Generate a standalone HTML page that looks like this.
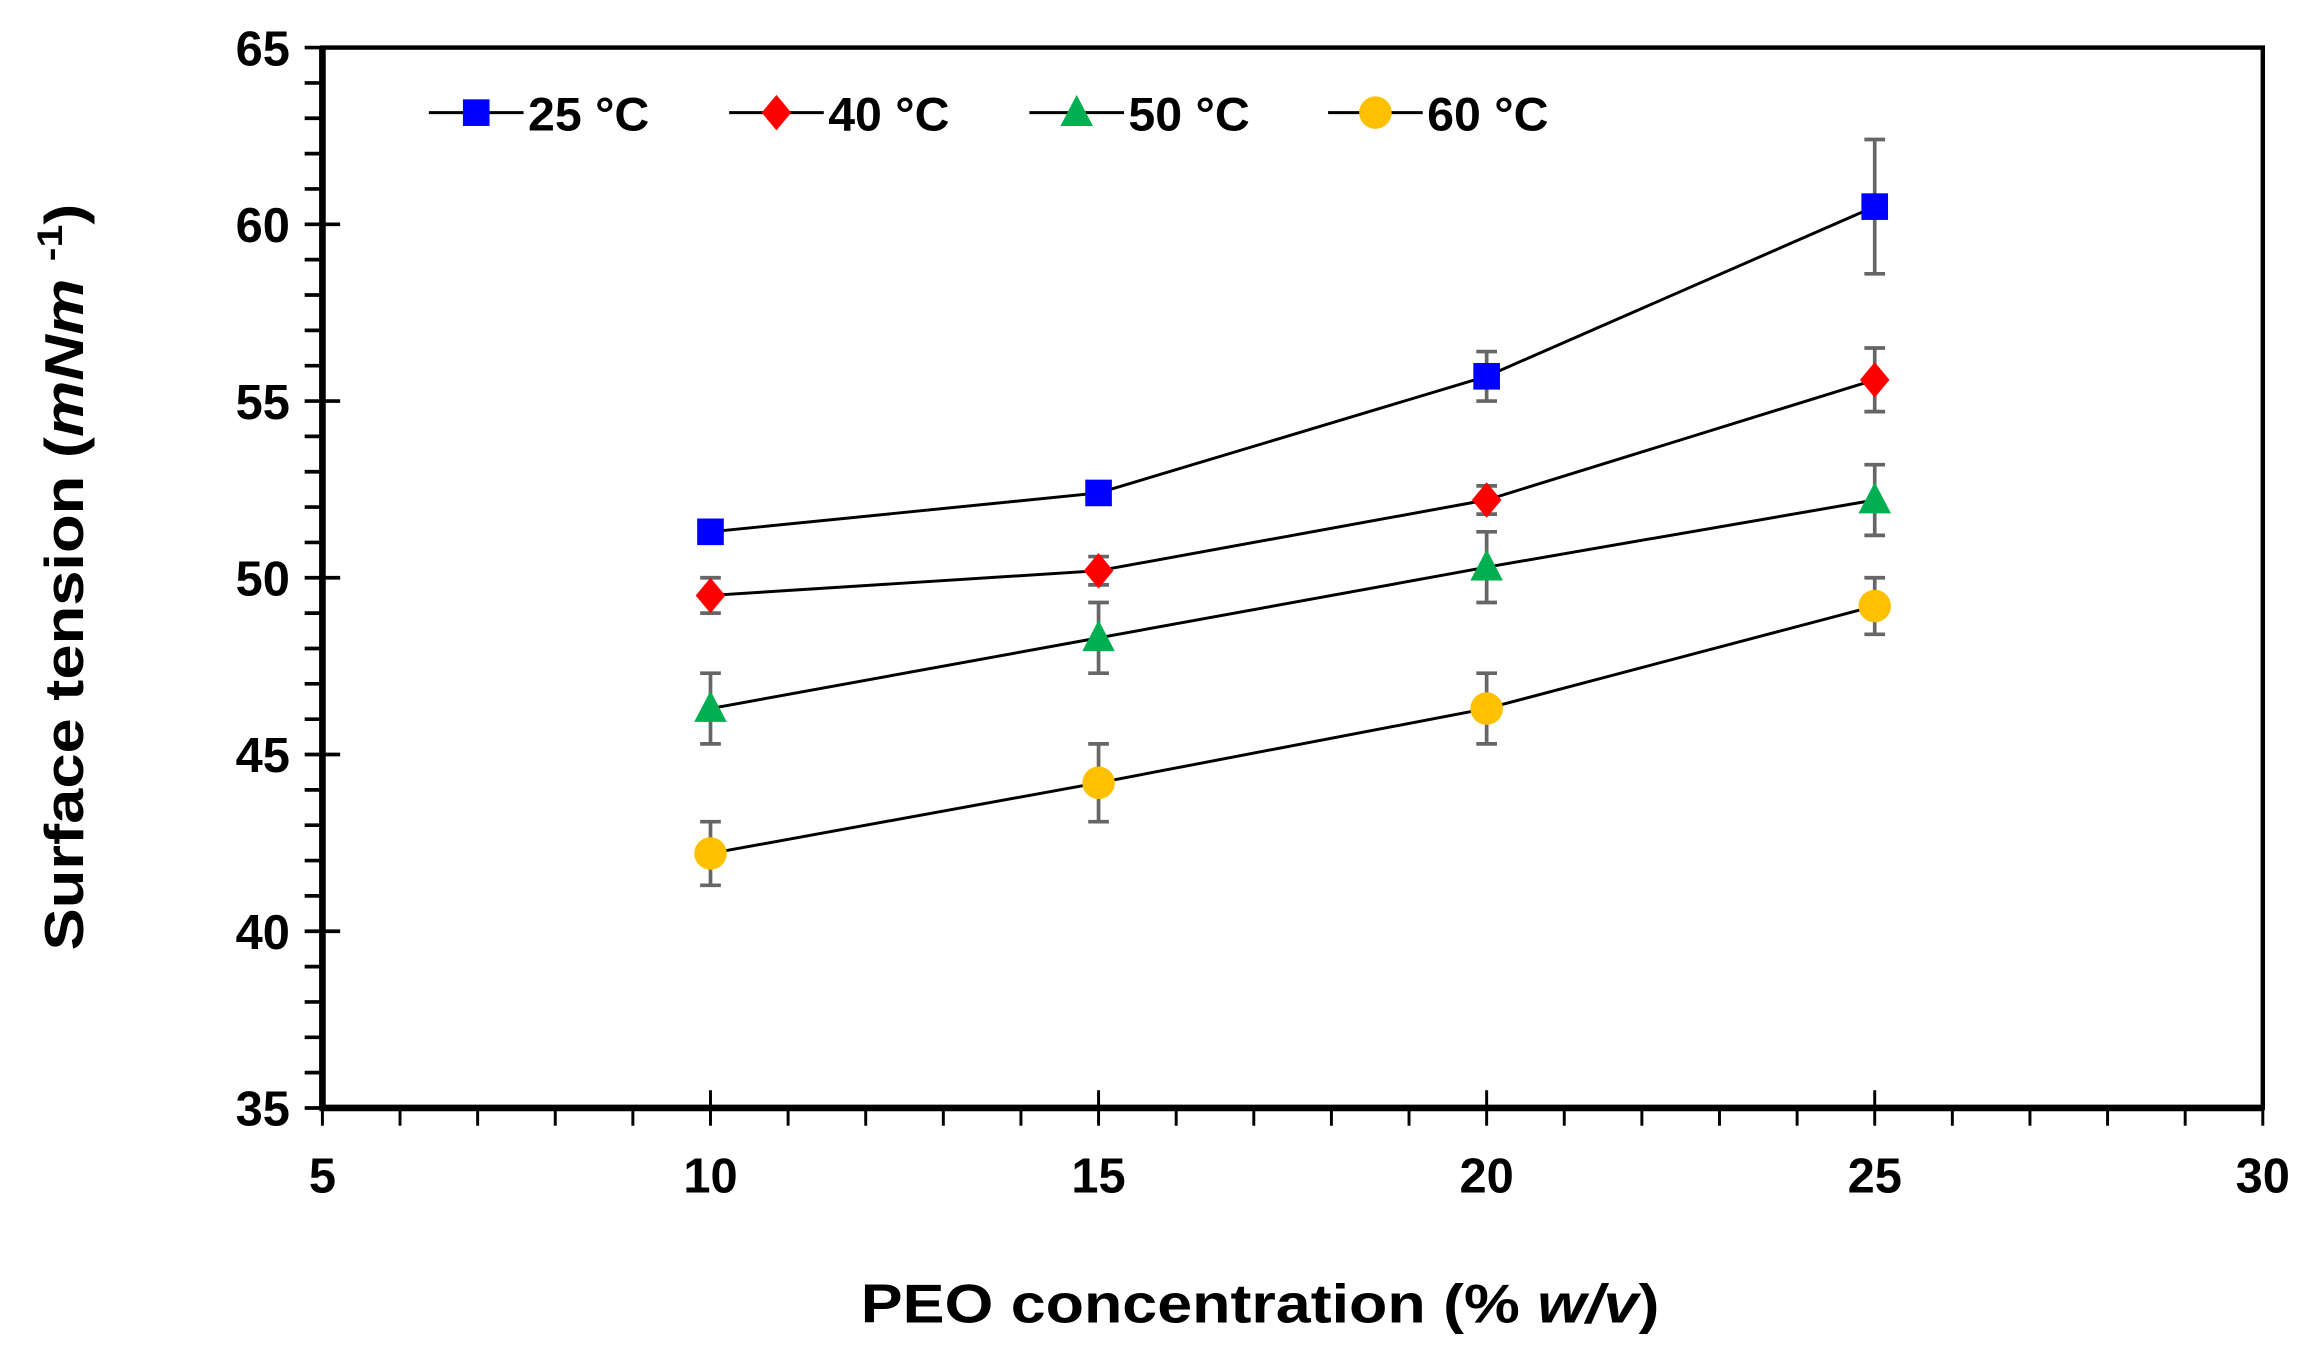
<!DOCTYPE html>
<html><head><meta charset="utf-8"><style>
html,body{margin:0;padding:0;background:#fff;}
svg{display:block;font-family:"Liberation Sans",sans-serif;}
</style></head><body>
<svg id="chart" width="2319" height="1370" viewBox="0 0 1568 926" xmlns="http://www.w3.org/2000/svg">
<g id="axes"></g>
<g id="series"></g>
<g id="legend"></g>
<text x="852" y="894" text-anchor="middle" font-size="37" font-weight="bold" textLength="540" lengthAdjust="spacingAndGlyphs">PEO concentration (% <tspan font-style="italic">w/v</tspan>)</text>
<text transform="translate(56,390) rotate(-90)" text-anchor="middle" font-size="37" font-weight="bold" textLength="505" lengthAdjust="spacingAndGlyphs">Surface tension (<tspan font-style="italic">mNm</tspan> <tspan font-size="24" dy="-14">-1</tspan><tspan dy="14">)</tspan></text>
</svg>
<script>
const xValues = [10, 15, 20, 25];
const seriesNames = ['25 °C', '40 °C', '50 °C', '60 °C'];
const vals25 = [51.3, 52.4, 55.7, 60.5];
const vals40 = [49.5, 50.2, 52.2, 55.6];
const vals50 = [46.3, 48.3, 50.3, 52.2];
const vals60 = [42.2, 44.2, 46.3, 49.2];
const err25 = [0.3, 0.3, 0.7, 1.9];
const err40 = [0.5, 0.4, 0.4, 0.9];
const err50 = [1.0, 1.0, 1.0, 1.0];
const err60 = [0.9, 1.1, 1.0, 0.8];
const xTicks = [5, 10, 15, 20, 25, 30];
const yTicks = [35, 40, 45, 50, 55, 60, 65];

const NS = 'http://www.w3.org/2000/svg';
const L = 218, R = 1530, T = 32, B = 749;
const xMin = 5, xMax = 30, yMin = 35, yMax = 65;
const sx = v => L + (v - xMin) / (xMax - xMin) * (R - L);
const sy = v => B - (v - yMin) / (yMax - yMin) * (B - T);
function mk(tag, attrs, parent) {
  const e = document.createElementNS(NS, tag);
  for (const k in attrs) e.setAttribute(k, attrs[k]);
  parent.appendChild(e);
  return e;
}
const axes = document.getElementById('axes');
const ax = mk('rect', {x: L, y: T, width: R - L, height: B - T, fill: 'none', stroke: '#000', 'stroke-width': 3}, axes);


const xl = mk('line', {x1: L - 2, x2: R, y1: B, y2: B, stroke: '#000', 'stroke-width': 4.5}, axes);


const yl = mk('line', {x1: L, x2: L, y1: T, y2: B, stroke: '#000', 'stroke-width': 4.5}, axes);


for (let v = xMin; v <= xMax; v++) {
  const x = sx(v);
  const major = (v % 5 === 0);
  const t = mk('line', {x1: x, x2: x, y1: major ? B - 12 : B, y2: B + 12, stroke: '#000', 'stroke-width': 2}, axes);
  
  
}
for (let v = yMin; v <= yMax; v++) {
  const y = sy(v);
  const major = (v % 5 === 0);
  const t = mk('line', {x1: L - 12, x2: major ? L + 12 : L, y1: y, y2: y, stroke: '#000', 'stroke-width': 2.5}, axes);
  
  
}
xTicks.forEach(v => {
  const t = mk('text', {x: sx(v), y: B + 57, 'text-anchor': 'middle', 'font-size': 33, 'font-weight': 'bold'}, axes);
  t.textContent = v;
  
  
});
yTicks.forEach(v => {
  const t = mk('text', {x: L - 22, y: sy(v) + 12, 'text-anchor': 'end', 'font-size': 33, 'font-weight': 'bold'}, axes);
  t.textContent = v;
  
  
});

const allVals = [vals25, vals40, vals50, vals60];
const allErr = [err25, err40, err50, err60];
const colors = ['#0000ff', '#ff0000', '#00b050', '#ffc000'];
const shapes = ['square', 'diamond', 'triangle', 'circle'];
function marker(shape, x, y, color, parent) {
  let e;
  if (shape === 'square') e = mk('rect', {x: x - 9, y: y - 9, width: 18, height: 18, fill: color}, parent);
  else if (shape === 'diamond') e = mk('polygon', {points: `${x},${y-12} ${x+10},${y} ${x},${y+12} ${x-10},${y}`, fill: color}, parent);
  else if (shape === 'triangle') e = mk('polygon', {points: `${x},${y-12} ${x+11},${y+9} ${x-11},${y+9}`, fill: color}, parent);
  else e = mk('circle', {cx: x, cy: y, r: 11, fill: color}, parent);
  return e;
}
const sg = document.getElementById('series');
allVals.forEach((vals, si) => {
  const g = mk('g', {}, sg);
  
  
  const pts = vals.map((v, i) => sx(xValues[i]) + ',' + sy(v)).join(' ');
  const pl = mk('polyline', {points: pts, fill: 'none', stroke: '#000', 'stroke-width': 2}, g);
  
  
  vals.forEach((v, i) => {
    const x = sx(xValues[i]), e = allErr[si][i];
    const y1 = sy(v + e), y2 = sy(v - e);
    const eb = mk('path', {d: `M${x},${y1}V${y2}M${x-7},${y1}H${x+7}M${x-7},${y2}H${x+7}`, stroke: '#666', 'stroke-width': 2.5, fill: 'none'}, g);
    
    
    const m = marker(shapes[si], x, sy(v), colors[si], g);
    
    
  });
});
const lg = document.getElementById('legend');
const legX = [290, 493, 696, 898];
seriesNames.forEach((n, i) => {
  const g = mk('g', {}, lg);
  
  
  const x0 = legX[i], y = 76;
  mk('line', {x1: x0, x2: x0 + 64, y1: y, y2: y, stroke: '#000', 'stroke-width': 2}, g);
  marker(shapes[i], x0 + 32, y, colors[i], g);
  const t = mk('text', {x: x0 + 67, y: y + 12, 'font-size': 32, 'font-weight': 'bold', textLength: 82, lengthAdjust: 'spacingAndGlyphs'}, g);
  t.textContent = n;
});
</script>
</body></html>
